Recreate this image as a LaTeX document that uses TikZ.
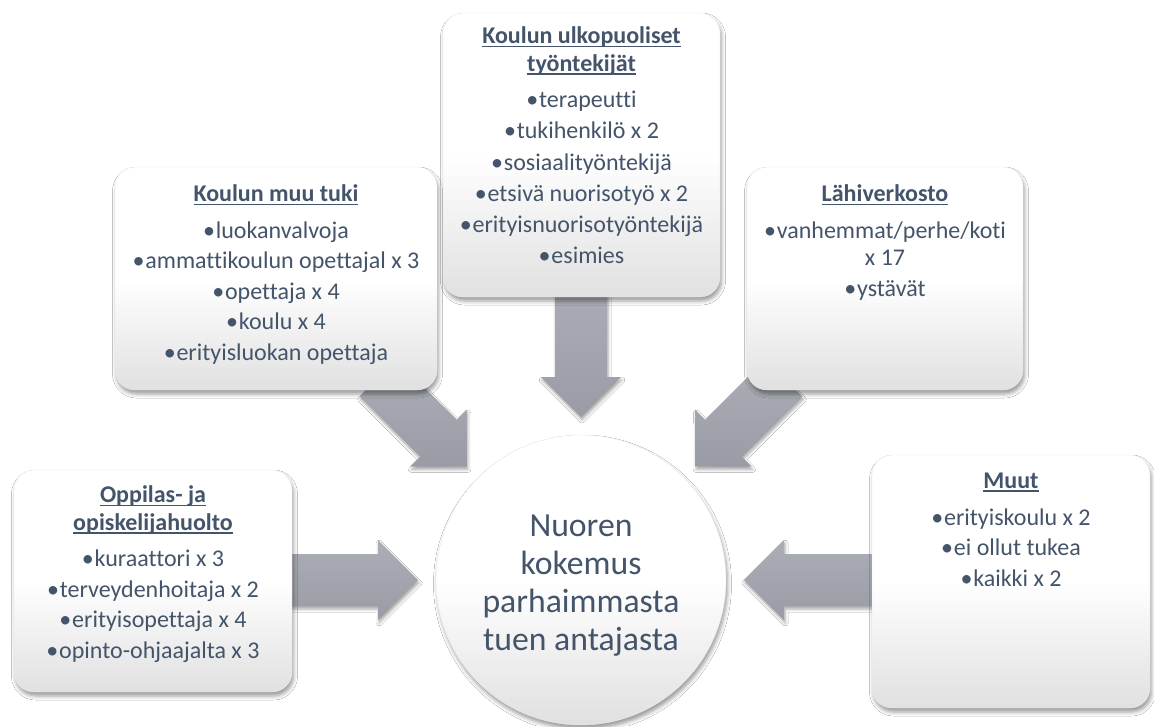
\documentclass[tikz,border=0pt]{standalone}
\usepackage{fontspec}
\setmainfont{Carlito}[Ligatures={NoCommon}]
\usetikzlibrary{calc,shadows.blur}
\definecolor{txt}{HTML}{44546A}
\definecolor{arrtop}{HTML}{ABAEB6}
\definecolor{arrbot}{HTML}{999CA4}
\pgfdeclarelayer{background}
\pgfsetlayers{background,main}
\newsavebox\ulbox
\newcommand\uln[1]{\sbox\ulbox{#1}\rlap{\rule[-3.6pt]{\wd\ulbox}{1.8pt}}\usebox\ulbox}
\newcommand\bl{•\hspace{0.8pt}}
\newcommand\blockarrow[2]{%
  \coordinate (hb) at ($(#2)!40pt!(#1)$);
  \path[blockarr] ($(#1)!26pt!90:(#2)$) -- ($(hb)!26pt!90:(#2)$) -- ($(hb)!40pt!90:(#2)$) -- (#2)
    -- ($(hb)!40pt!-90:(#2)$) -- ($(hb)!26pt!-90:(#2)$) -- ($(#1)!26pt!-90:(#2)$) -- cycle;}
\tikzset{
  card/.style={rectangle, rounded corners=20pt, draw=black!9, line width=0.4pt,
    top color=white, bottom color=black!12, middle color=white,
    blur shadow={shadow xshift=1.5pt, shadow yshift=-4pt, shadow blur radius=4pt, shadow opacity=40},
    inner sep=0pt},
  cardtext/.style={anchor=north, align=center, text=txt, inner sep=0pt,
    font={\fontsize{24}{27.5}\selectfont}},
  hub/.style={circle, draw=black!8, line width=0.4pt,
    top color=white, bottom color=black!12, middle color=white,
    blur shadow={shadow xshift=1.5pt, shadow yshift=-4pt, shadow blur radius=4pt, shadow opacity=40},
    minimum size=290pt, inner sep=0pt},
  hubtext/.style={font={\fontsize{33.7}{38}\selectfont}, text=txt, align=center, inner sep=0pt},
  blockarr/.style={top color=arrtop, bottom color=arrbot,
    blur shadow={shadow xshift=1pt, shadow yshift=-3pt, shadow blur radius=3pt, shadow opacity=35}}
}
\begin{document}
\begin{tikzpicture}[x=1pt, y=-1pt]
\useasboundingbox (0,0) rectangle (1154,726);

% cards
\node[card, minimum width=278pt, minimum height=222pt] (b1) at (153,581) {};
\node[card, minimum width=322pt, minimum height=223pt] (b2) at (276,278.5) {};
\node[card, minimum width=277pt, minimum height=284pt] (b3) at (581.5,155) {};
\node[card, minimum width=276pt, minimum height=223pt] (b4) at (885,278.5) {};
\node[card, minimum width=278pt, minimum height=253pt] (b5) at (1011,581.5) {};

% hub
\node[hub] (c) at (581,580) {};
\node[hubtext] (ct) at ($(c)+(0,6)$) {Nuoren\\kokemus\\parhaimmasta\\tuen antajasta};

% card texts
\node[cardtext] (t1) at ($(b1.north)+(0,16)$) {\uln{\bfseries Oppilas- ja}\\\uln{\bfseries opiskelijahuolto}\\[9pt]
  \bl kuraattori x 3\\[3pt]\bl terveydenhoitaja x 2\\[3pt]\bl erityisopettaja x 4\\[3pt]\bl opinto-ohjaajalta x 3};
\node[cardtext] (t2) at ($(b2.north)+(0,18)$) {\uln{\bfseries Koulun muu tuki}\\[9pt]
  \bl luokanvalvoja\\[3pt]\bl ammattikoulun opettajal x 3\\[3pt]\bl opettaja x 4\\[3pt]\bl koulu x 4\\[3pt]\bl erityisluokan opettaja};
\node[cardtext] (t3) at ($(b3.north)+(0,14)$) {\uln{\bfseries Koulun ulkopuoliset}\\\uln{\bfseries työntekijät}\\[9pt]
  \bl terapeutti\\[3.6pt]\bl tukihenkilö x 2\\[3.6pt]\bl sosiaalityöntekijä\\[3.6pt]\bl etsivä nuorisotyö x 2\\[3.6pt]\bl erityisnuorisotyöntekijä\\[3.6pt]\bl esimies};
\node[cardtext] (t4) at ($(b4.north)+(0,18)$) {\uln{\bfseries Lähiverkosto}\\[9pt]
  \bl vanhemmat/perhe/koti\\x 17\\[3pt]\bl ystävät};
\node[cardtext] (t5) at ($(b5.north)+(0,18)$) {\uln{\bfseries Muut}\\[9pt]
  \bl erityiskoulu x 2\\[3pt]\bl ei ollut tukea\\[3pt]\bl kaikki x 2};

% arrows
\coordinate (s1) at ($(b1.east)+(-12,-1)$);
\coordinate (e1) at ($(c)!163pt!(s1)$);
\coordinate (s2) at (378,378);
\coordinate (e2) at ($(c)!161pt!(s2)$);
\coordinate (s3) at ($(b3.south)+(-0.5,-15)$);
\coordinate (e3) at ($(c)!163pt!(s3)$);
\coordinate (s4) at (784,378);
\coordinate (e4) at ($(c)!161pt!(s4)$);
\coordinate (s5) at ($(b5.west)+(12,-1.5)$);
\coordinate (e5) at ($(c)!163pt!(s5)$);
\begin{pgfonlayer}{background}
  \fill[white] (0,0) rectangle (1154,726);
  \blockarrow{s1}{e1}
  \blockarrow{s2}{e2}
  \blockarrow{s3}{e3}
  \blockarrow{s4}{e4}
  \blockarrow{s5}{e5}
\end{pgfonlayer}
\end{tikzpicture}
\end{document}
